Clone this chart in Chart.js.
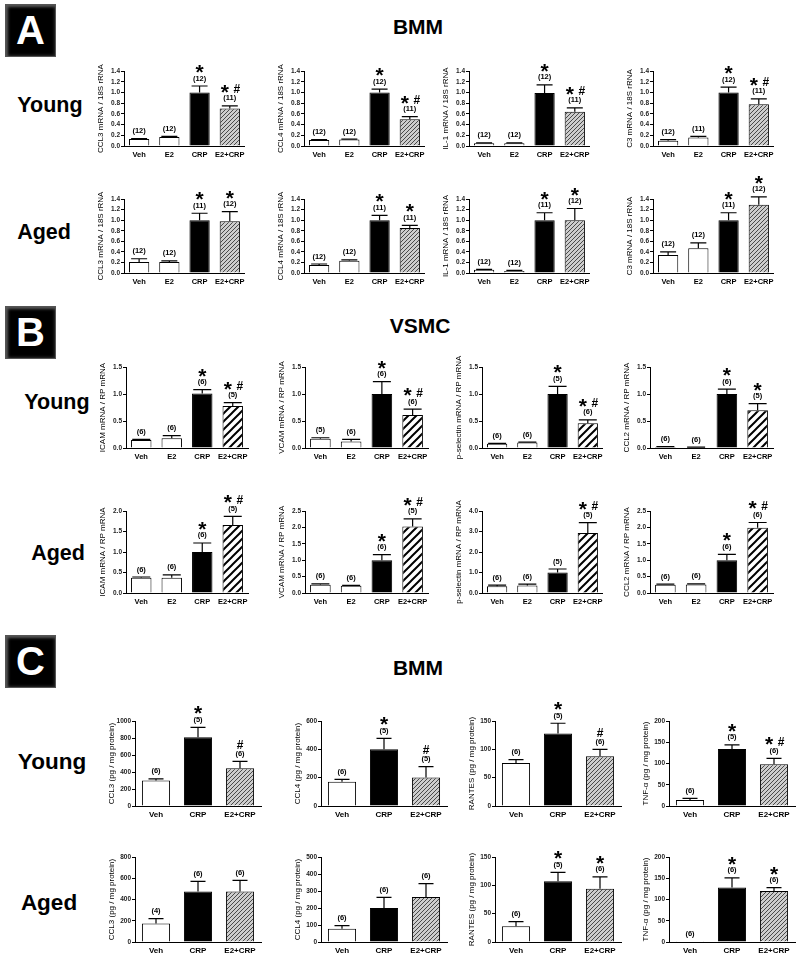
<!DOCTYPE html>
<html>
<head>
<meta charset="utf-8">
<script src="https://cdn.jsdelivr.net/npm/chart.js@4.4.1/dist/chart.umd.min.js"></script>
<style>
  body { margin: 0; background: #fff; font-family: 'Liberation Sans', Arial, sans-serif; }
  #fig { position: relative; width: 800px; height: 957px; overflow: hidden; }
  .box { position: absolute; left: 5px; width: 51px; height: 53px; background: #000; color: #fff;
         font-weight: bold; font-size: 40px; display: flex; align-items: center; justify-content: center;
         box-shadow: inset 0 0 0 1px #555, inset 3px 3px 3px #5a5a5a, inset -2px -2px 3px #2a2a2a; }
  .lbl { position: absolute; transform: translate(-50%, -50%); font-weight: bold; white-space: nowrap; color: #000; }
  canvas { position: absolute; }
</style>
</head>
<body>
<div id="fig">
  <div class="box" style="top:4px">A</div>
  <div class="box" style="top:306px">B</div>
  <div class="box" style="top:635px">C</div>
  <div class="lbl" style="left:418px;top:27px;font-size:21px">BMM</div>
  <div class="lbl" style="left:420px;top:326px;font-size:21px">VSMC</div>
  <div class="lbl" style="left:418px;top:668px;font-size:21px">BMM</div>
  <div class="lbl" style="left:50px;top:105px;font-size:21.5px">Young</div>
  <div class="lbl" style="left:44px;top:232px;font-size:21.5px">Aged</div>
  <div class="lbl" style="left:57px;top:402px;font-size:21.5px">Young</div>
  <div class="lbl" style="left:58px;top:553px;font-size:21.5px">Aged</div>
  <div class="lbl" style="left:52px;top:762px;font-size:22.5px">Young</div>
  <div class="lbl" style="left:49px;top:903px;font-size:22.5px">Aged</div>
</div>
<script>
// categories
const cats4 = ['Veh', 'E2', 'CRP', 'E2+CRP'];
const cats3 = ['Veh', 'CRP', 'E2+CRP'];

// A - BMM mRNA
const aTitles = ['CCL3 mRNA / 18S rRNA', 'CCL4 mRNA / 18S rRNA', 'IL-1 mRNA / 18S rRNA', 'C3 mRNA / 18S rRNA'];
const aYoungMean = [[0.13, 0.17, 1.0, 0.70], [0.11, 0.12, 1.0, 0.50], [0.05, 0.05, 0.99, 0.64], [0.10, 0.16, 1.0, 0.78]];
const aYoungErr  = [[0.01, 0.01, 0.12, 0.05], [0.01, 0.01, 0.06, 0.05], [0.01, 0.01, 0.15, 0.07], [0.02, 0.02, 0.10, 0.10]];
const aYoungN    = [[12, 12, 12, 11], [12, 12, 12, 11], [12, 12, 12, 11], [12, 11, 12, 11]];
const aYoungSig  = [['', '', '*', '*#'], ['', '', '*', '*#'], ['', '', '*', '*#'], ['', '', '*', '*#']];
const aAgedMean  = [[0.21, 0.21, 1.0, 0.98], [0.15, 0.23, 1.0, 0.85], [0.06, 0.04, 1.0, 1.0], [0.34, 0.47, 1.0, 1.29]];
const aAgedErr   = [[0.06, 0.02, 0.13, 0.18], [0.02, 0.02, 0.09, 0.05], [0.01, 0.01, 0.14, 0.22], [0.06, 0.10, 0.14, 0.15]];
const aAgedN     = [[12, 12, 11, 12], [12, 12, 11, 11], [12, 12, 11, 12], [12, 12, 11, 12]];
const aAgedSig   = [['', '', '*', '*'], ['', '', '*', '*'], ['', '', '*', '*'], ['', '', '*', '*']];
const aMax = [1.4, 1.4, 1.4, 1.4];
const aStep = [0.2, 0.2, 0.2, 0.2];

// B - VSMC mRNA
const bTitles = ['ICAM mRNA / RP mRNA', 'VCAM mRNA / RP mRNA', 'p-selectin mRNA / RP mRNA', 'CCL2 mRNA / RP mRNA'];
const bYoungMean = [[0.15, 0.18, 1.01, 0.78], [0.17, 0.12, 1.0, 0.61], [0.08, 0.10, 1.0, 0.46], [0.02, 0.01, 1.0, 0.70]];
const bYoungErr  = [[0.01, 0.05, 0.07, 0.06], [0.02, 0.04, 0.23, 0.11], [0.005, 0.01, 0.14, 0.06], [0.005, 0.005, 0.09, 0.12]];
const bYoungN    = [[6, 6, 6, 5], [5, 6, 6, 6], [6, 6, 5, 6], [6, 6, 6, 5]];
const bYoungSig  = [['', '', '*', '*#'], ['', '', '*', '*#'], ['', '', '*', '*#'], ['', '', '*', '*']];
const bYoungMax  = [1.5, 1.5, 1.5, 1.5];
const bYoungStep = [0.5, 0.5, 0.5, 0.5];
const bAgedMean  = [[0.37, 0.37, 1.0, 1.66], [0.25, 0.22, 1.0, 2.03], [0.33, 0.36, 1.0, 2.93], [0.25, 0.26, 1.0, 1.99]];
const bAgedErr   = [[0.02, 0.07, 0.22, 0.21], [0.03, 0.01, 0.17, 0.23], [0.05, 0.07, 0.17, 0.50], [0.02, 0.02, 0.18, 0.16]];
const bAgedN     = [[6, 6, 6, 5], [6, 6, 6, 5], [6, 6, 5, 5], [6, 6, 6, 6]];
const bAgedSig   = [['', '', '*', '*#'], ['', '', '*', '*#'], ['', '', '', '*#'], ['', '', '*', '*#']];
const bAgedMax   = [2.0, 2.5, 4.0, 2.5];
const bAgedStep  = [0.5, 0.5, 1.0, 0.5];

// C - BMM protein
const cTitles = ['CCL3 (pg / mg protein)', 'CCL4 (pg / mg protein)', 'RANTES (pg / mg protein)', 'TNF-α (pg / mg protein)'];
const cYoungMean = [[300, 810, 445], [172, 400, 202], [76, 128, 88], [14, 134, 98]];
const cYoungErr  = [[20, 115, 80], [16, 78, 76], [6, 18, 12], [4, 10, 14]];
const cYoungN    = [[6, 5, 6], [6, 5, 5], [6, 5, 6], [6, 5, 6]];
const cYoungSig  = [['', '*', '#'], ['', '*', '#'], ['', '*', '#'], ['', '*', '*#']];
const cYoungMax  = [1000, 600, 150, 200];
const cYoungStep = [200, 200, 50, 50];
const cAgedMean  = [[175, 475, 475], [78, 200, 265], [28, 107, 94], [2, 128, 120]];
const cAgedErr   = [[45, 95, 105], [18, 63, 78], [8, 16, 21], [0, 23, 8]];
const cAgedN     = [[4, 6, 6], [6, 6, 6], [6, 5, 6], [6, 6, 6]];
const cAgedSig   = [['', '', ''], ['', '', ''], ['', '*', '*'], ['', '*', '*']];
const cAgedMax   = [800, 500, 150, 200];
const cAgedStep  = [200, 100, 50, 50];

// layout of the small panels (pixel positions of y axis and plot area)
const aAxes = [124, 304, 469, 653], aWidths = [121, 121, 121, 121];
const bAxes = [126, 305, 482, 650], bWidths = [122, 123, 121, 123];
const cAxes = [135, 321, 495, 669], cWidths = [126, 126, 126, 126];

const FONT = '"Liberation Sans", Arial, sans-serif';
const fig = document.getElementById('fig');

function hatch(size, bg, fg, lw) {
  const c = document.createElement('canvas');
  c.width = c.height = size;
  const g = c.getContext('2d');
  g.fillStyle = bg;
  g.fillRect(0, 0, size, size);
  g.strokeStyle = fg;
  g.lineWidth = lw;
  g.beginPath();
  g.moveTo(0, size); g.lineTo(size, 0);
  g.moveTo(-size / 2, size / 2); g.lineTo(size / 2, -size / 2);
  g.moveTo(size / 2, size * 1.5); g.lineTo(size * 1.5, size / 2);
  g.stroke();
  return g.createPattern(c, 'repeat');
}
const bmmHatch = hatch(4, '#cdcdcd', '#4a4a4a', 1);
const vsmcHatch = hatch(8, '#fff', '#000', 2);

function centerText(ctx, t, x, cy, font) {
  ctx.font = font;
  ctx.textAlign = 'center';
  ctx.textBaseline = 'alphabetic';
  const m = ctx.measureText(t);
  ctx.fillText(t, x, cy + (m.actualBoundingBoxAscent - m.actualBoundingBoxDescent) / 2);
}

// error bars, group sizes and significance marks
function errPlugin(s) {
  return {
    id: 'errbars',
    afterDatasetsDraw(chart) {
      const ctx = chart.ctx, y = chart.scales.y;
      const bars = chart.getDatasetMeta(0).data;
      ctx.save();
      bars.forEach((b, i) => {
        const base = y.getPixelForValue(s.mean[i]);
        const top = y.getPixelForValue(s.mean[i] + s.err[i]);
        if (s.err[i] > 0) {
          ctx.strokeStyle = '#000';
          ctx.lineWidth = 1.2;
          ctx.beginPath();
          ctx.moveTo(b.x, base); ctx.lineTo(b.x, top);
          ctx.moveTo(b.x - s.cap / 2, top); ctx.lineTo(b.x + s.cap / 2, top);
          ctx.stroke();
        }
        ctx.fillStyle = '#000';
        centerText(ctx, '(' + s.n[i] + ')', b.x, top - 7, 'bold 7.5px ' + FONT);
        const sg = s.sig[i];
        const star = 'bold 21px ' + FONT, hash = 'bold 12px ' + FONT;
        if (sg === '*') centerText(ctx, '*', b.x, top - 17, star);
        else if (sg === '#') centerText(ctx, '#', b.x, top - 17, hash);
        else if (sg === '*#') {
          centerText(ctx, '*', b.x - 5, top - 17, star);
          centerText(ctx, '#', b.x + 7, top - 17, hash);
        }
      });
      ctx.restore();
    }
  };
}

function makeChart(s) {
  const padTop = 34, padBottom = 0, padL = 2, padR = 4, axisW = 28, xAxisH = 18;
  const w = padL + axisW + s.width + padR;
  const h = padTop + (s.bottom - s.top) + xAxisH + padBottom;
  const cv = document.createElement('canvas');
  cv.width = w; cv.height = h;
  cv.style.width = w + 'px'; cv.style.height = h + 'px';
  cv.style.left = (s.x - padL - axisW) + 'px';
  cv.style.top = (s.top - padTop) + 'px';
  fig.appendChild(cv);

  new Chart(cv, {
    type: 'bar',
    data: {
      labels: s.cats,
      datasets: [{
        data: s.mean,
        backgroundColor: s.fills,
        borderColor: '#000',
        borderWidth: 1,
        barPercentage: 0.67,
        categoryPercentage: 1
      }]
    },
    options: {
      responsive: false,
      animation: false,
      devicePixelRatio: 1,
      layout: { padding: { left: padL, right: padR, top: padTop, bottom: padBottom } },
      plugins: { legend: { display: false }, tooltip: { enabled: false } },
      scales: {
        x: {
          grid: { display: false, drawTicks: false, tickLength: 0 },
          border: { color: '#000', width: 1 },
          ticks: { color: '#000', font: { family: FONT, size: s.xFont, weight: 'bold' }, padding: 4, maxRotation: 0, autoSkip: false },
          afterFit: sc => { sc.height = xAxisH; }
        },
        y: {
          min: 0,
          max: s.max,
          ticks: {
            stepSize: s.step, color: '#222', padding: 1, autoSkip: false,
            font: { family: FONT, size: 6.5, weight: 'bold' },
            callback: v => v.toFixed(s.dec)
          },
          grid: { drawOnChartArea: false, color: '#000', tickLength: 3 },
          border: { color: '#000', width: 1 },
          title: { display: true, text: s.title, color: '#000', font: { family: FONT, size: 8 }, padding: 0 },
          afterFit: sc => { sc.width = axisW; }
        }
      }
    },
    plugins: [errPlugin(s)]
  });
}

function makeRow(r) {
  for (let i = 0; i < 4; i++) {
    makeChart({
      x: r.axes[i], width: r.widths[i], top: r.top, bottom: r.bottom,
      cats: r.cats, fills: r.fills, title: r.titles[i],
      mean: r.mean[i], err: r.err[i], n: r.n[i], sig: r.sig[i],
      max: r.max[i], step: r.step[i], dec: r.dec, cap: r.cap, xFont: r.xFont
    });
  }
}

document.addEventListener('DOMContentLoaded', () => {
  const fillA = ['#fff', '#fff', '#000', bmmHatch];
  const fillB = ['#fff', '#fff', '#000', vsmcHatch];
  const fillC = ['#fff', '#000', bmmHatch];

  makeRow({ axes: aAxes, widths: aWidths, top: 71, bottom: 146, cats: cats4, fills: fillA, titles: aTitles,
            mean: aYoungMean, err: aYoungErr, n: aYoungN, sig: aYoungSig, max: aMax, step: aStep, dec: 1, cap: 16, xFont: 7.5 });
  makeRow({ axes: aAxes, widths: aWidths, top: 199, bottom: 273, cats: cats4, fills: fillA, titles: aTitles,
            mean: aAgedMean, err: aAgedErr, n: aAgedN, sig: aAgedSig, max: aMax, step: aStep, dec: 1, cap: 16, xFont: 7.5 });
  makeRow({ axes: bAxes, widths: bWidths, top: 367, bottom: 448, cats: cats4, fills: fillB, titles: bTitles,
            mean: bYoungMean, err: bYoungErr, n: bYoungN, sig: bYoungSig, max: bYoungMax, step: bYoungStep, dec: 1, cap: 18, xFont: 7.5 });
  makeRow({ axes: bAxes, widths: bWidths, top: 511, bottom: 593, cats: cats4, fills: fillB, titles: bTitles,
            mean: bAgedMean, err: bAgedErr, n: bAgedN, sig: bAgedSig, max: bAgedMax, step: bAgedStep, dec: 1, cap: 18, xFont: 7.5 });
  makeRow({ axes: cAxes, widths: cWidths, top: 721, bottom: 806, cats: cats3, fills: fillC, titles: cTitles,
            mean: cYoungMean, err: cYoungErr, n: cYoungN, sig: cYoungSig, max: cYoungMax, step: cYoungStep, dec: 0, cap: 15, xFont: 8 });
  makeRow({ axes: cAxes, widths: cWidths, top: 857, bottom: 942, cats: cats3, fills: fillC, titles: cTitles,
            mean: cAgedMean, err: cAgedErr, n: cAgedN, sig: cAgedSig, max: cAgedMax, step: cAgedStep, dec: 0, cap: 15, xFont: 8 });
});
</script>
</body>
</html>
